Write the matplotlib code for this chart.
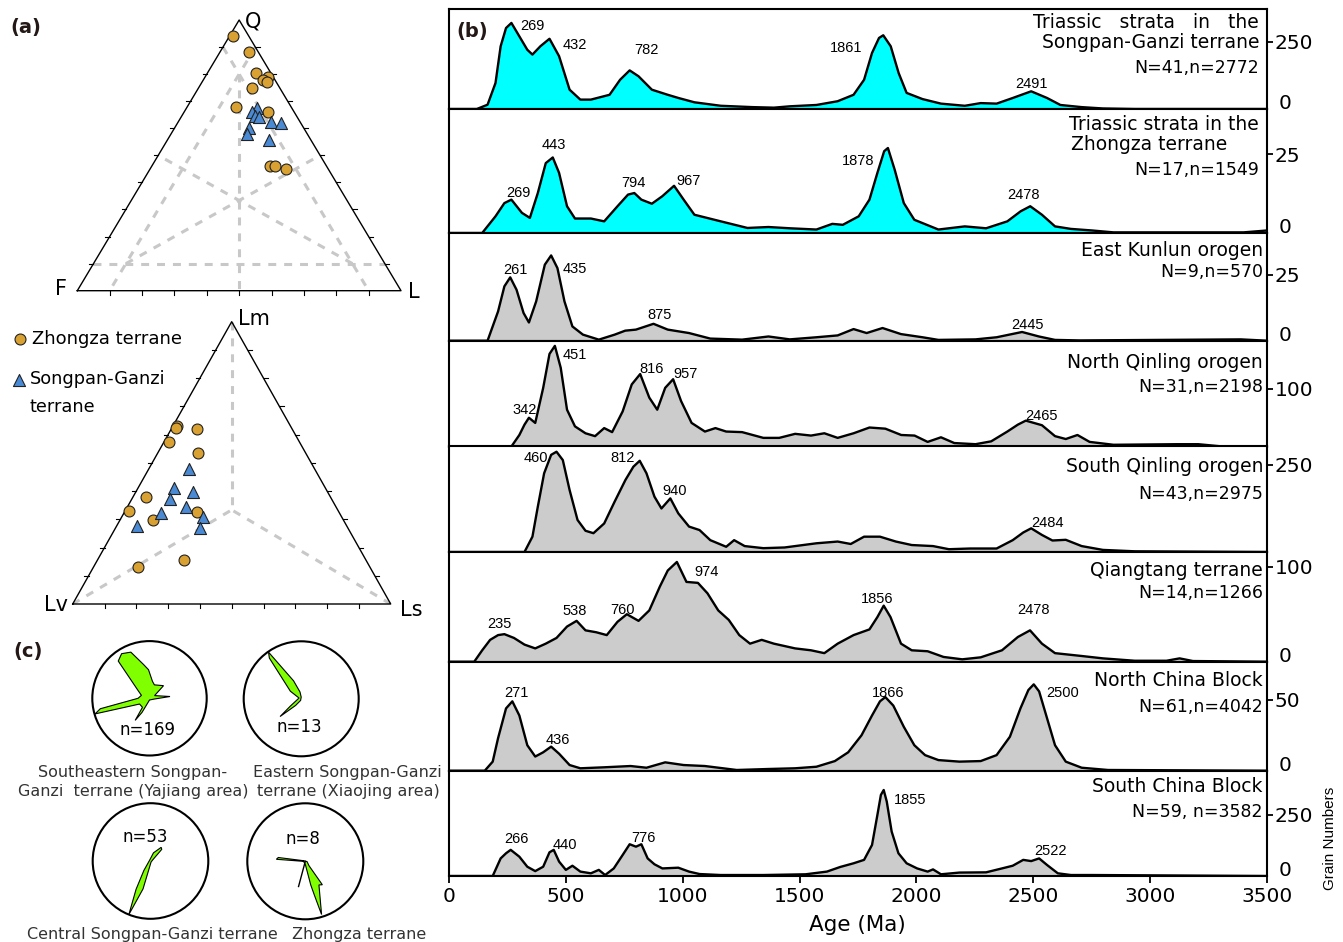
import numpy as np
import matplotlib
matplotlib.use("Agg")
import matplotlib.pyplot as plt
from matplotlib.patches import Circle, Polygon
from matplotlib.transforms import blended_transform_factory

plt.rcParams["font.family"] = ["DejaVu Sans"]
NUM_FONT = ["Liberation Sans", "DejaVu Sans"]

W, H = 1343, 942


def fx(px):
    return px / W


def fy(py):
    return 1 - py / H


# ---------- (b) detrital zircon age spectra ----------
age_sg = [0, 119, 165, 199, 221, 244, 267, 301, 335, 357, 391, 430, 471, 516, 562, 607, 687, 732, 773, 811,
          868, 936, 982, 1050, 1163, 1299, 1390, 1458, 1572, 1663, 1731, 1776, 1810, 1840, 1858, 1890, 1924,
          1958, 2026, 2105, 2207, 2275, 2343, 2412, 2491, 2559, 2616, 2707, 2798, 2934, 3500]
cnt_sg = [0, 0, 16, 97, 234, 302, 321, 271, 221, 203, 234, 262, 197, 72, 35, 35, 53, 109, 144, 122,
          72, 53, 41, 25, 12, 7, 5, 10, 15, 29, 53, 109, 209, 265, 275, 234, 134,
          60, 37, 20, 12, 22, 20, 41, 66, 41, 15, 7, 2, 0, 0]

age_zz = [0, 142, 199, 237, 267, 312, 346, 380, 414, 444, 471, 505, 539, 607, 664, 721, 766, 793, 823, 868,
          913, 963, 1004, 1050, 1163, 1277, 1367, 1458, 1572, 1640, 1685, 1753, 1799, 1833, 1862, 1878, 1907,
          1946, 1991, 2094, 2207, 2298, 2389, 2446, 2487, 2537, 2593, 2661, 2752, 2843, 3400, 3500]
cnt_zz = [0, 0, 5.3, 9.5, 10.6, 6.4, 4.8, 12.7, 22.2, 24.0, 19.1, 8.5, 4.6, 4.6, 3.7, 8.5, 12.2, 12.7, 10.6, 9.3,
          11.7, 15.0, 10.6, 5.8, 3.7, 1.6, 1.9, 1.5, 1.1, 2.9, 2.6, 5.3, 10.6, 19.1, 26.0, 27.0, 20.1,
          9.5, 4.2, 1.1, 2.1, 1.5, 3.7, 6.9, 8.5, 5.8, 2.1, 1.3, 0.8, 0.2, 0.2, 0.8]

age_ek = [0, 165, 210, 237, 262, 289, 319, 342, 373, 410, 437, 464, 494, 528, 573, 641, 709, 754, 800, 875,
          936, 1027, 1118, 1254, 1367, 1458, 1572, 1663, 1731, 1787, 1855, 1934, 2026, 2094, 2253, 2343,
          2452, 2524, 2593, 2700, 3388, 3500]
cnt_ek = [0, 0, 11.1, 20.6, 24.0, 19.3, 10.5, 6.9, 14.9, 28.8, 32.3, 27.5, 14.9, 5.4, 2.3, 0.4, 2.3, 3.8, 4.2, 6.4,
          4.2, 2.9, 0.8, 0.4, 1.6, 0.5, 1.3, 2.0, 4.4, 2.9, 4.8, 2.5, 1.3, 0.3, 0.5, 1.3,
          3.3, 1.6, 0.3, 0.1, 0.5, 0]

age_nq = [0, 267, 301, 323, 342, 369, 403, 430, 453, 478, 505, 539, 584, 625, 664, 698, 743, 782, 818, 857,
          891, 925, 959, 993, 1038, 1095, 1140, 1186, 1254, 1345, 1413, 1481, 1549, 1606, 1663, 1731, 1799,
          1867, 1935, 1992, 2048, 2105, 2162, 2253, 2320, 2389, 2434, 2468, 2537, 2593, 2639, 2689, 2741,
          2843, 3115, 3206, 3297, 3500]
cnt_nq = [0, 0, 20, 38, 50, 41, 102, 161, 175, 137, 64, 35, 23, 18, 32, 25, 61, 108, 126, 85,
          64, 102, 117, 79, 41, 26, 32, 26, 25, 15, 15, 22, 19, 23, 15, 23, 33,
          31, 20, 19, 8, 16, 6, 4, 9, 26, 38, 45, 37, 18, 13, 20, 8,
          3, 4, 4, 0.5, 0]

age_sq = [0, 323, 357, 380, 407, 437, 460, 487, 516, 550, 584, 618, 664, 709, 755, 789, 816, 845, 879, 909,
          947, 981, 1027, 1072, 1118, 1186, 1220, 1265, 1345, 1436, 1572, 1663, 1719, 1776, 1844, 1912, 1980,
          2071, 2139, 2230, 2343, 2412, 2457, 2491, 2537, 2582, 2639, 2707, 2798, 2934, 3500]
cnt_sq = [0, 0, 44, 130, 226, 279, 288, 264, 178, 92, 61, 54, 82, 145, 207, 245, 262, 226, 159, 125,
          154, 111, 73, 63, 34, 15, 34, 17, 11, 13, 25, 30, 23, 44, 44, 30, 20,
          17, 8, 10, 10, 34, 56, 68, 49, 33, 35, 17, 6, 2, 0]

age_qt = [0, 108, 142, 176, 210, 237, 278, 323, 369, 414, 460, 505, 546, 584, 630, 675, 721, 761, 811, 857,
          902, 936, 975, 1016, 1065, 1106, 1152, 1197, 1242, 1288, 1338, 1390, 1481, 1549, 1606, 1663, 1731,
          1799, 1833, 1860, 1889, 1934, 1980, 2048, 2116, 2196, 2275, 2366, 2434, 2486, 2537, 2593, 2707,
          2798, 2934, 3070, 3126, 3183, 3500]
cnt_qt = [0, 0, 12, 23, 28, 29, 25, 18, 14, 19, 25, 37, 43, 33, 31, 28, 42, 50, 43, 54,
          79, 96, 105, 84, 83, 72, 54, 44, 28, 19, 23, 19, 14, 12, 9, 19, 28,
          34, 47, 59, 47, 19, 12, 11, 5, 2.5, 4.6, 12, 26, 33, 19, 9, 6,
          3.5, 1, 1, 3.5, 0.7, 0]

age_nc = [0, 153, 187, 210, 244, 271, 301, 335, 369, 403, 437, 471, 516, 562, 664, 777, 845, 925, 1004, 1095,
          1231, 1367, 1481, 1572, 1651, 1708, 1765, 1810, 1844, 1867, 1901, 1946, 1991, 2037, 2094, 2184,
          2275, 2343, 2400, 2445, 2479, 2502, 2525, 2559, 2593, 2639, 2707, 2820, 3500]
cnt_nc = [0, 0, 6.4, 23, 44, 49, 39, 18, 10, 13, 17, 12, 4, 1.7, 2.4, 3.3, 2.1, 5.9, 4, 3.3,
          0.5, 1.2, 1.7, 2.8, 6.8, 13, 25, 39, 49, 52, 46, 31, 18, 11, 7.5, 6.4,
          6.8, 11, 24, 44, 57, 61, 56, 37, 18, 6.4, 2.1, 0.5, 0]

age_sc = [0, 187, 221, 244, 264, 301, 335, 369, 403, 430, 448, 471, 500, 528, 562, 607, 641, 668, 705, 743,
          773, 800, 823, 850, 879, 913, 981, 1027, 1072, 1163, 1345, 1526, 1617, 1674, 1731, 1776, 1810,
          1833, 1848, 1860, 1873, 1894, 1923, 1958, 2003, 2048, 2071, 2105, 2184, 2298, 2366, 2412, 2457,
          2491, 2525, 2559, 2605, 2661, 2752, 3500]
cnt_sc = [0, 0, 72, 93, 107, 79, 38, 20, 38, 97, 107, 59, 25, 42, 18, 11, 25, 4, 31, 86,
          130, 120, 130, 72, 48, 31, 34, 18, 8, 4, 4, 7, 18, 37, 52, 66, 127,
          250, 332, 352, 305, 182, 93, 52, 31, 18, 27, 7, 14, 15, 31, 42, 66,
          61, 72, 45, 11, 4, 4, 0]

# peak labels: (text, age, height)
peaks_sg = [("269", 357, 308), ("432", 539, 240), ("782", 845, 219), ("1861", 1701, 228), ("2491", 2491, 95)]
peaks_zz = [("269", 296, 12.7), ("443", 448, 28), ("794", 789, 16), ("967", 1027, 16.6),
            ("1878", 1749, 23), ("2478", 2457, 12.2)]
peaks_ek = [("261", 285, 26.9), ("435", 539, 27.3), ("875", 902, 9.6), ("2445", 2475, 5.8)]
peaks_nq = [("342", 323, 64), ("451", 539, 159), ("816", 868, 134), ("957", 1011, 126), ("2465", 2537, 53)]
peaks_sq = [("460", 373, 269), ("812", 743, 269), ("940", 966, 176), ("2484", 2559, 82)]
peaks_qt = [("235", 214, 40), ("538", 539, 53), ("760", 743, 54), ("974", 1100, 94),
            ("1856", 1833, 66), ("2478", 2502, 54)]
peaks_nc = [("271", 289, 55), ("436", 464, 22), ("1866", 1878, 55), ("2500", 2627, 55)]
peaks_sc = [("266", 289, 150), ("440", 494, 127), ("776", 834, 154), ("1855", 1974, 311), ("2522", 2575, 104)]

ages = [age_sg, age_zz, age_ek, age_nq, age_sq, age_qt, age_nc, age_sc]
counts = [cnt_sg, cnt_zz, cnt_ek, cnt_nq, cnt_sq, cnt_qt, cnt_nc, cnt_sc]
peaks = [peaks_sg, peaks_zz, peaks_ek, peaks_nq, peaks_sq, peaks_qt, peaks_nc, peaks_sc]
names = ["Songpan-Ganzi terrane", "Zhongza terrane", "East Kunlun orogen", "North Qinling orogen",
         "South Qinling orogen", "Qiangtang terrane", "North China Block", "South China Block"]
sizes = ["N=41,n=2772", "N=17,n=1549", "N=9,n=570", "N=31,n=2198", "N=43,n=2975",
         "N=14,n=1266", "N=61,n=4042", "N=59, n=3582"]
ymax = [373, 39.4, 40.8, 184, 303, 115.5, 77, 431]
ytick = [250, 25, 25, 100, 250, 100, 50, 250]
has_zero = [True, True, True, False, False, True, True, True]

# ---------- (a) petrography ----------
# Q, F, L (%)
qfl_zz = [(94, 5, 1), (88, 3, 9), (80.5, 4.5, 15), (79, 1.5, 19.5), (78, 3.5, 18.5), (77, 3, 20),
          (75, 8.5, 16.5), (68, 17, 15), (66, 8, 26), (46, 17.5, 36.5), (46, 16, 38), (45, 13, 42)]
qfl_sg = [(67.6, 10.6, 21.8), (66, 13, 21), (64.5, 13, 22.5), (64, 12, 24), (62.5, 9, 28.5),
          (62, 6, 32), (60, 17, 23), (58, 18.5, 23.5), (55.5, 13, 31.5)]
# Lm, Lv, Ls (%)
lml_zz = [(63.2, 35.7, 1.1), (62.5, 36.2, 1.3), (61.9, 30.1, 8.0), (57.5, 41.1, 1.4), (53.6, 33.8, 12.6),
          (38.0, 57.9, 4.1), (32.9, 65.8, 1.3), (29.8, 60.0, 10.2), (32.5, 44.7, 22.8),
          (15.6, 57.3, 27.1), (13.2, 72.9, 13.9)]
lml_sg = [(47.7, 39.6, 12.7), (41.2, 47.7, 11.1), (39.6, 42.5, 17.9), (37.1, 50.7, 12.2), (34.5, 47.1, 18.4),
          (32.3, 56.2, 11.5), (30.9, 43.5, 25.6), (27.6, 66.1, 6.3), (26.8, 46.6, 26.6)]

# ---------- (c) palaeocurrent roses: (azimuth deg, radius fraction) ----------
rose_yj = [(10, 0.30), (20, 0.25), (48, 0.33), (62, 0.10), (85, 0.36), (100, 0.08), (180, 0.03),
           (208, 0.28), (213, 0.46), (218, 0.20), (240, 0.20), (254, 0.99), (258, 0.88), (270, 0.20),
           (290, 0.15), (305, 0.25), (320, 0.85), (328, 0.92), (338, 0.87), (350, 0.60), (358, 0.50)]
rose_xj = [(0, 0.03), (200, 0.03), (220, 0.15), (230, 0.48), (236, 0.23), (290, 0.04), (305, 0.23),
           (322, 0.90), (325, 0.99), (329, 0.60), (337, 0.34), (350, 0.12)]
rose_csg = [(20, 0.15), (38, 0.30), (44, 0.28), (60, 0.05), (150, 0.02), (195, 0.50), (202, 1.0),
            (207, 0.55), (215, 0.20), (300, 0.02)]
rose_zz = [(100, 0.03), (140, 0.10), (144, 0.50), (150, 0.47), (163, 0.96), (165, 0.60), (167, 0.42),
           (178, 0.06), (268, 0.03), (274, 0.50), (278, 0.47), (290, 0.03)]
rose_n = ["n=169", "n=13", "n=53", "n=8"]

fig = plt.figure(figsize=(W / 100, H / 100), dpi=100)

# ---------- (b) stacked spectra ----------
tops = [9, 109, 233, 340.7, 446.5, 552, 661.7, 770.7]
bots = [109, 233, 340.7, 446.5, 552, 661.7, 770.7, 876]
name_y = [42, 144, 250, 363, 466, 571, 680, 786]
size_y = [68, 170, 272, 387, 494, 593, 707, 812]
x_left, x_right = 449, 1267

for i in range(8):
    ax = fig.add_axes([fx(x_left), fy(bots[i]), fx(x_right - x_left), (bots[i] - tops[i]) / H])
    fc = "#00FFFF" if i < 2 else "#CCCCCC"
    ax.fill_between(ages[i], counts[i], 0, color=fc, lw=0)
    ax.plot(ages[i], counts[i], color="black", lw=1.7, solid_joinstyle="round")
    ax.set_xlim(0, 3500)
    ax.set_ylim(0, ymax[i])
    for s in ax.spines.values():
        s.set_linewidth(1.5)
    ax.yaxis.tick_right()
    ax.set_yticks([ytick[i]])
    ax.tick_params(axis="y", direction="out", length=4, width=1.3, pad=1.5, labelsize=14.5)
    if has_zero[i]:
        tr = blended_transform_factory(ax.transAxes, ax.transData)
        ax.text(1.0147, 0, "0", transform=tr, ha="left", va="baseline", fontsize=14.5)
    if i < 7:
        ax.tick_params(axis="x", bottom=False, labelbottom=False)
    else:
        ax.set_xticks(np.arange(0, 3501, 500))
        ax.tick_params(axis="x", direction="out", length=5, width=1.3, pad=3, labelsize=14.5)
    for lab, a, v in peaks[i]:
        ax.text(a, v, lab, ha="center", va="center", fontsize=10.5, family=NUM_FONT)

    rx = 1259 if i < 2 else 1263
    if i == 0:
        fig.text(fx(rx), fy(23), "Triassic   strata   in   the", ha="right", va="center", fontsize=13.5)
        fig.text(fx(rx), fy(name_y[i]), names[i], ha="right", va="center", fontsize=13.5)
    elif i == 1:
        fig.text(fx(rx), fy(125), "Triassic strata in the", ha="right", va="center", fontsize=13.5)
        fig.text(fx(1071), fy(name_y[i]), names[i], ha="left", va="center", fontsize=13.5)
    else:
        fig.text(fx(rx), fy(name_y[i]), names[i], ha="right", va="center", fontsize=13.5)
    fig.text(fx(rx), fy(size_y[i]), sizes[i], ha="right", va="center", fontsize=12.5)

fig.text(fx(857), fy(925), "Age (Ma)", ha="center", va="center", fontsize=15.5)
fig.text(fx(1330), fy(838), "Grain Numbers", ha="center", va="center", rotation=90,
         fontsize=11, family=NUM_FONT)
fig.text(fx(472), fy(31), "(b)", ha="center", va="center", fontsize=14, fontweight="bold", color="#231815")


# ---------- (a) ternary diagrams ----------
S3 = np.sqrt(3) / 2


def tern(top, left, right):
    s = top + left + right
    t, r = top / s, right / s
    return r + t / 2, t * S3


def ternary(rect, pts_zz, pts_sg, grid, labels, lab_px):
    ax = fig.add_axes(rect)
    ax.set_xlim(0, 1)
    ax.set_ylim(0, S3)
    ax.axis("off")
    ax.plot([0, 1, 0.5, 0], [0, 0, S3, 0], color="black", lw=1.0, clip_on=False, zorder=3)
    tl = 0.013
    for k in range(1, 10):
        f = k / 10
        ax.plot([f, f], [0, -tl], color="black", lw=0.8, clip_on=False)
        xl, yl = f / 2, f * S3
        ax.plot([xl, xl - tl], [yl, yl], color="black", lw=0.8, clip_on=False)
        xr = 1 - f / 2
        ax.plot([xr, xr + tl], [yl, yl], color="black", lw=0.8, clip_on=False)
    for p0, p1 in grid:
        x0, y0 = tern(*p0)
        x1, y1 = tern(*p1)
        ax.plot([x0, x1], [y0, y1], color="#C8C8C8", lw=2.2, ls=(0, (2.6, 2.6)), zorder=1)
    xs, ys = zip(*[tern(*p) for p in pts_zz])
    ax.scatter(xs, ys, s=62, marker="o", facecolor="#D9A032", edgecolor="#222222", lw=0.8,
               zorder=5, clip_on=False)
    xs, ys = zip(*[tern(*p) for p in pts_sg])
    ax.scatter(xs, ys, s=75, marker="^", facecolor="#4A8AD4", edgecolor="#222222", lw=0.8,
               zorder=6, clip_on=False)
    for lab, (px, py) in zip(labels, lab_px):
        fig.text(fx(px), fy(py), lab, ha="center", va="center", fontsize=15)


qfl_grid = [((10, 90, 0), (10, 0, 90)), ((90, 10, 0), (0, 10, 90)), ((90, 0, 10), (0, 90, 10)),
            ((80, 10, 10), (0, 50, 50)), ((10, 80, 10), (50, 0, 50)), ((10, 10, 80), (50, 50, 0))]
c3 = 100 / 3
lm_grid = [((100, 0, 0), (c3, c3, c3)), ((0, 100, 0), (c3, c3, c3)), ((0, 0, 100), (c3, c3, c3))]

ternary([fx(77.3), fy(290.7), fx(401 - 77.3), (290.7 - 20) / H], qfl_zz, qfl_sg, qfl_grid,
        ["Q", "F", "L"], [(253, 21), (61, 289), (414, 292)])
ternary([fx(72.7), fy(604), fx(390.7 - 72.7), (604 - 321.7) / H], lml_zz, lml_sg, lm_grid,
        ["Lm", "Lv", "Ls"], [(254, 319), (56, 605), (411, 610)])

fig.text(fx(26), fy(27), "(a)", ha="center", va="center", fontsize=14, fontweight="bold", color="#231815")

# legend
lax = fig.add_axes([0, 0, 1, 1], facecolor="none")
lax.set_xlim(0, W)
lax.set_ylim(H, 0)
lax.axis("off")
lax.scatter([20], [338.5], s=62, marker="o", facecolor="#D9A032", edgecolor="#222222", lw=0.8)
lax.scatter([19], [380], s=75, marker="^", facecolor="#4A8AD4", edgecolor="#222222", lw=0.8)
fig.text(fx(32), fy(339.5), "Zhongza terrane", ha="left", va="center", fontsize=13)
fig.text(fx(30), fy(379), "Songpan-Ganzi", ha="left", va="center", fontsize=12.8)
fig.text(fx(30), fy(407), "terrane", ha="left", va="center", fontsize=12.8)

# ---------- (c) rose diagrams ----------
fig.text(fx(28), fy(651), "(c)", ha="center", va="center", fontsize=14, fontweight="bold", color="#231815")

rose_circles = [(149.5, 698.3, 57.2), (301.2, 698.8, 57.5), (150.5, 861, 57.8), (305.3, 861.3, 58)]
roses = [rose_yj, rose_xj, rose_csg, rose_zz]
n_pos = [(147.7, 730), (299.3, 726.7), (145, 837.5), (302.7, 838.7)]
for k, ((cx, cy, r), rose) in enumerate(zip(rose_circles, roses)):
    rax = fig.add_axes([fx(cx - r - 2), fy(cy + r + 2), fx(2 * r + 4), (2 * r + 4) / H])
    lim = (r + 2) / r
    rax.set_xlim(-lim, lim)
    rax.set_ylim(-lim, lim)
    rax.axis("off")
    az = np.radians([p[0] for p in rose])
    rr = np.array([p[1] for p in rose])
    verts = np.column_stack([rr * np.sin(az), rr * np.cos(az)])
    rax.add_patch(Polygon(verts, closed=True, facecolor="#80FF00", edgecolor="black", lw=0.8, zorder=2))
    rax.add_patch(Circle((0, 0), 1, fill=False, edgecolor="black", lw=1.5, zorder=3))
    if k == 3:
        a = np.radians(195)
        rax.plot([0, 0.45 * np.sin(a)], [0, 0.45 * np.cos(a)], color="black", lw=1.0, zorder=3)
    fig.text(fx(n_pos[k][0]), fy(n_pos[k][1]), rose_n[k], ha="center", va="center", fontsize=12)

cap_kw = dict(ha="center", va="center", fontsize=11.5, color="#333333")
fig.text(fx(133), fy(773), "Southeastern Songpan-", **cap_kw)
fig.text(fx(133), fy(791.5), "Ganzi  terrane (Yajiang area)", **cap_kw)
fig.text(fx(347), fy(773), "Eastern Songpan-Ganzi", **cap_kw)
fig.text(fx(348), fy(791.5), "terrane (Xiaojing area)", **cap_kw)
fig.text(fx(152), fy(935), "Central Songpan-Ganzi terrane", **cap_kw)
fig.text(fx(359), fy(935), "Zhongza terrane", **cap_kw)

fig.savefig("out.png", dpi=100)
